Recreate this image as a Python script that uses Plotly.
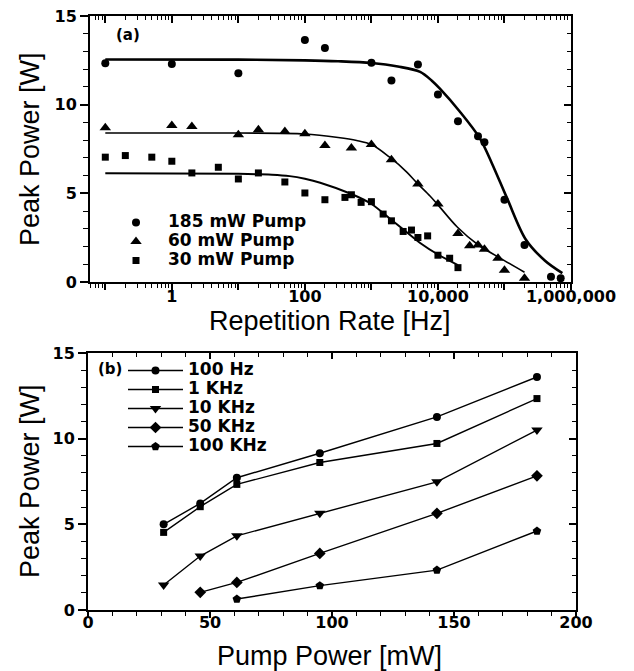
import plotly.graph_objects as go

# ---------------- data: panel (a) ----------------
freq_185 = [0.1, 1, 10, 100, 200, 1000, 2000, 5000, 10000, 20000, 40000, 50000,
            100000, 200000, 500000, 700000]
pow_185 = [12.34, 12.3, 11.77, 13.64, 13.2, 12.36, 11.36, 12.26, 10.58, 9.07, 8.22, 7.88,
           4.64, 2.08, 0.30, 0.21]

freq_60 = [0.1, 1, 2, 10, 20, 50, 100, 200, 500, 1000, 2000, 5000, 10000, 20000,
           30000, 40000, 50000, 80000, 100000, 200000]
pow_60 = [8.7, 8.83, 8.77, 8.3, 8.58, 8.49, 8.36, 7.7, 7.55, 7.75, 6.89, 5.53, 4.4, 2.73,
          2.04, 2.08, 1.85, 1.34, 0.66, 0.21]

freq_30 = [0.1, 0.2, 0.5, 1, 2, 5, 10, 20, 50, 100, 200, 400, 500, 700, 1000, 1500,
           2000, 3000, 4000, 5000, 7000, 10000, 15000, 20000]
pow_30 = [7.04, 7.13, 7.04, 6.81, 6.15, 6.47, 5.81, 6.15, 5.64, 5.02, 4.64, 4.77, 4.92,
          4.49, 4.53, 3.83, 3.45, 2.85, 2.93, 2.51, 2.6, 1.51, 1.34, 0.81]

# fitted curves
fit185_f = [0.1, 10, 100, 316, 1000, 2500, 5400, 8100, 10700, 21400, 42700, 64600,
            110000, 209000, 407000, 741000]
fit185_p = [12.55, 12.54, 12.5, 12.45, 12.35, 12.15, 11.85, 11.35, 10.9, 9.6, 8.1, 6.7,
            4.7, 2.4, 1.2, 0.5]

fit60_f = [0.1, 10, 100, 316, 600, 1000, 1860, 3400, 4800, 7600, 10000, 19500, 40000,
           95500, 200000]
fit60_p = [8.4, 8.4, 8.35, 8.15, 7.98, 7.75, 7.05, 6.2, 5.6, 4.85, 4.35, 3.1, 2.1,
           1.25, 0.55]

fit30_f = [0.1, 10, 32, 59, 100, 170, 500, 1000, 1860, 3160, 5400, 10000, 20000]
fit30_p = [6.13, 6.1, 6.05, 5.97, 5.82, 5.6, 4.96, 4.4, 3.6, 2.9, 2.2, 1.55, 0.95]

rate_tickvals = [0.1, 1, 10, 100, 1000, 10000, 100000, 1000000]
rate_ticktext = ["", "1", "", "100", "", "10,000", "", "1,000,000"]

# ---------------- data: panel (b) ----------------
pump_mw = [31, 46, 61, 95, 143, 184]
p_100hz = [5.0, 6.22, 7.72, 9.15, 11.27, 13.6]
p_1khz = [4.53, 6.03, 7.33, 8.61, 9.72, 12.34]
p_10khz = [1.46, 3.15, 4.33, 5.64, 7.48, 10.5]
p_50khz = [None, 1.03, 1.61, 3.3, 5.64, 7.83]
p_100khz = [None, None, 0.64, 1.42, 2.33, 4.61]

# ---------------- layout helpers ----------------
W, H = 634, 671
OFF = 8  # page body margin
def fx(p):
    return (p - OFF) / W
def fy(p):
    return 1 - (p - OFF) / H

TOP_X = [fx(90), fx(571)]
TOP_Y = [fy(282), fy(16)]
BOT_X = [fx(88), fx(576)]
BOT_Y = [fy(610), fy(353)]

tickfont = dict(family="DejaVu Sans", size=16, color="black", weight="bold")
titlefont = dict(family="Liberation Sans", size=27, color="black")

minor_log = []
for e in range(-2, 6):
    for m in range(2, 10):
        minor_log.append(m * 10 ** e)

fig = go.Figure()

# fitted lines (a)
for fxv, fpv, w in [(fit185_f, fit185_p, 2.6), (fit60_f, fit60_p, 1.6), (fit30_f, fit30_p, 2.0)]:
    fig.add_trace(go.Scatter(x=fxv, y=fpv, mode="lines", showlegend=False, hoverinfo="skip",
                             line=dict(color="black", width=w, shape="spline", smoothing=0.9),
                             xaxis="x", yaxis="y"))

def lg(t):
    return '<span style="font-size:17px">' + t + "</span>"

for xv, yv, nm, sym, sz in [(freq_185, pow_185, "185 mW Pump", "circle", 8),
                            (freq_60, pow_60, "60 mW Pump", "triangle-up", 10),
                            (freq_30, pow_30, "30 mW Pump", "square", 7)]:
    fig.add_trace(go.Scatter(x=xv, y=yv, mode="markers", name=lg(nm),
                             marker=dict(symbol=sym, size=sz, color="black"),
                             xaxis="x", yaxis="y", legend="legend"))

for yv, nm, sym, sz in [(p_100hz, "100 Hz", "circle", 8),
                        (p_1khz, "1 KHz", "square", 7),
                        (p_10khz, "10 KHz", "triangle-down", 10),
                        (p_50khz, "50 KHz", "diamond", 9),
                        (p_100khz, "100 KHz", "pentagon", 9)]:
    fig.add_trace(go.Scatter(x=pump_mw, y=yv, mode="lines+markers", name=lg(nm),
                             line=dict(color="black", width=1.4),
                             marker=dict(symbol=sym, size=sz, color="black"),
                             xaxis="x2", yaxis="y2", legend="legend2"))

# empty traces to activate mirror axes (inside ticks on top/right)
fig.add_trace(go.Scatter(x=[], y=[], xaxis="x3", yaxis="y", showlegend=False))
fig.add_trace(go.Scatter(x=[], y=[], xaxis="x", yaxis="y3", showlegend=False))
fig.add_trace(go.Scatter(x=[], y=[], xaxis="x4", yaxis="y2", showlegend=False))
fig.add_trace(go.Scatter(x=[], y=[], xaxis="x2", yaxis="y4", showlegend=False))

common = dict(showgrid=False, zeroline=False, showline=True, linecolor="black", linewidth=2,
              tickcolor="black", tickwidth=1.5, tickfont=tickfont, fixedrange=True,
              automargin=False, ticklabeloverflow="allow")

def ann(text, x, y, angle=0, font=titlefont):
    return dict(text=text, x=fx(x), y=fy(y), xref="paper", yref="paper", xanchor="center",
                yanchor="middle", textangle=angle, showarrow=False, font=font)

labfont = dict(family="DejaVu Sans", size=15, color="black", weight="bold")

fig.update_layout(
    width=W, height=H, margin=dict(l=0, r=0, t=0, b=0, autoexpand=False),
    paper_bgcolor="white", plot_bgcolor="white",
    xaxis=dict(domain=TOP_X, anchor="y", type="log", range=[-1.23, 6.0],
               tickmode="array", tickvals=rate_tickvals, ticktext=rate_ticktext,
               ticks="outside", ticklen=6, ticklabelstandoff=-7,
               minor=dict(tickmode="array", tickvals=minor_log, ticks="outside", ticklen=4,
                          tickcolor="black", tickwidth=1),
               **common),
    xaxis3=dict(overlaying="x", anchor="y", side="top", type="log", range=[-1.23, 6.0],
                tickmode="array", tickvals=rate_tickvals, ticks="inside", ticklen=7,
                showticklabels=False,
                minor=dict(tickmode="array", tickvals=minor_log, ticks="inside", ticklen=4,
                           tickcolor="black", tickwidth=1),
                **common),
    yaxis=dict(domain=TOP_Y, anchor="x", range=[0, 15], tickmode="array",
               tickvals=[0, 5, 10, 15], ticks="outside", ticklen=8,
               minor=dict(dtick=1, ticks="outside", ticklen=5, tickcolor="black", tickwidth=1),
               **common),
    yaxis3=dict(overlaying="y", anchor="x", side="right", range=[0, 15], tickmode="array",
                tickvals=[0, 5, 10, 15], ticks="inside", ticklen=7, showticklabels=False,
                minor=dict(dtick=1, ticks="inside", ticklen=4, tickcolor="black", tickwidth=1),
                **common),
    xaxis2=dict(domain=BOT_X, anchor="y2", range=[0, 200], tickmode="array",
                tickvals=[0, 50, 100, 150, 200], ticks="outside", ticklen=6,
                ticklabelstandoff=-9,
                minor=dict(dtick=10, ticks="outside", ticklen=4, tickcolor="black", tickwidth=1),
                **common),
    xaxis4=dict(overlaying="x2", anchor="y2", side="top", range=[0, 200], tickmode="array",
                tickvals=[0, 50, 100, 150, 200], ticks="inside", ticklen=6,
                showticklabels=False,
                minor=dict(dtick=10, ticks="inside", ticklen=4, tickcolor="black", tickwidth=1),
                **common),
    yaxis2=dict(domain=BOT_Y, anchor="x2", range=[0, 15], tickmode="array",
                tickvals=[0, 5, 10, 15], ticks="outside", ticklen=8,
                minor=dict(dtick=1, ticks="outside", ticklen=5, tickcolor="black", tickwidth=1),
                **common),
    yaxis4=dict(overlaying="y2", anchor="x2", side="right", range=[0, 15], tickmode="array",
                tickvals=[0, 5, 10, 15], ticks="inside", ticklen=7, showticklabels=False,
                minor=dict(dtick=1, ticks="inside", ticklen=4, tickcolor="black", tickwidth=1),
                **common),
    legend=dict(x=fx(104), y=fy(208), xanchor="left", yanchor="top",
                bgcolor="rgba(0,0,0,0)", borderwidth=0, itemwidth=54, tracegroupgap=0,
                font=dict(family="DejaVu Sans", size=12, color="black", weight="bold")),
    legend2=dict(x=fx(123), y=fy(356), xanchor="left", yanchor="top",
                 bgcolor="rgba(0,0,0,0)", borderwidth=0, itemwidth=55, tracegroupgap=0,
                 font=dict(family="DejaVu Sans", size=12, color="black", weight="bold")),
    annotations=[
        ann("Peak Power [W]", 30, 149, -90),
        ann("Repetition Rate [Hz]", 330, 321),
        ann("Peak Power [W]", 30, 481, -90),
        ann("Pump Power [mW]", 330, 656),
        ann("(a)", 128, 35, font=labfont),
        ann("(b)", 110, 369, font=labfont),
    ],
)

fig.write_html("out.html")
